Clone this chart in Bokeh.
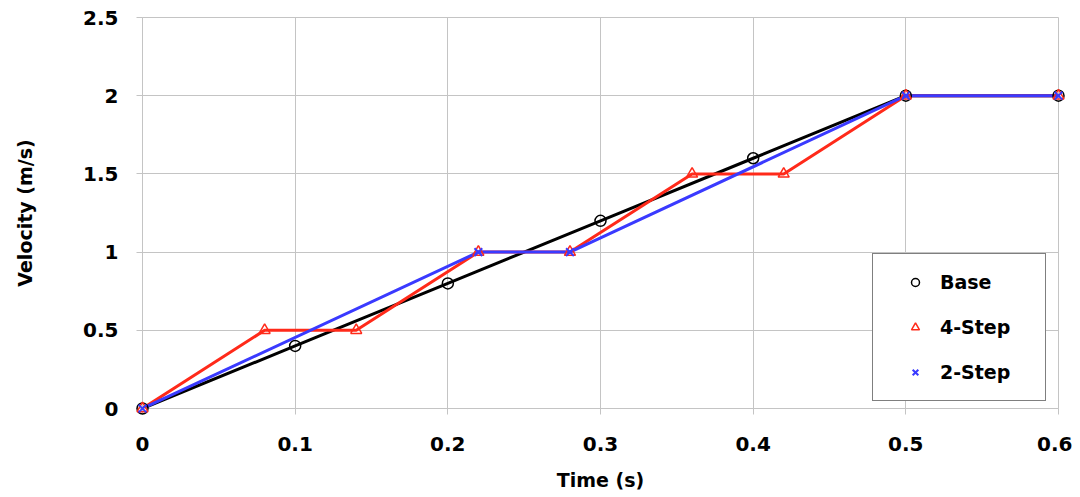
from bokeh.plotting import figure
from bokeh.models import Legend, LegendItem, FixedTicker, CustomJSTickFormatter
from bokeh.embed import file_html
from bokeh.resources import INLINE

# ---- data ----
base_t = [0, 0.1, 0.2, 0.3, 0.4, 0.5, 0.6]
base_v = [0, 0.4, 0.8, 1.2, 1.6, 2.0, 2.0]

step4_t = [0, 0.08, 0.14, 0.22, 0.28, 0.36, 0.42, 0.5, 0.6]
step4_v = [0, 0.5, 0.5, 1.0, 1.0, 1.5, 1.5, 2.0, 2.0]

step2_t = [0, 0.22, 0.28, 0.5, 0.6]
step2_v = [0, 1.0, 1.0, 2.0, 2.0]

x_ticks = [0, 0.1, 0.2, 0.3, 0.4, 0.5, 0.6]
x_labels = ["0", "0.1", "0.2", "0.3", "0.4", "0.5", "0.6"]
y_ticks = [0, 0.5, 1, 1.5, 2, 2.5]
y_labels = ["0", "0.5", "1", "1.5", "2", "2.5"]

FONT = "DejaVu Sans"
GRID = "#c4c4c4"
RED = "#ff2a1a"
BLUE = "#3a3aff"

p = figure(width=1072, height=493, x_range=(0, 0.6), y_range=(0, 2.5),
           output_backend="svg", toolbar_location=None,
           min_border_left=142, min_border_right=14,
           min_border_top=17, min_border_bottom=85)
p.background_fill_color = "white"
p.border_fill_color = "white"
p.outline_line_color = GRID

for ax, tks, lbls in ((p.xaxis[0], x_ticks, x_labels), (p.yaxis[0], y_ticks, y_labels)):
    ax.ticker = FixedTicker(ticks=tks)
    ax.formatter = CustomJSTickFormatter(args=dict(tv=tks, tl=lbls), code="""
        for (let i = 0; i < tv.length; i++) {
            if (Math.abs(tv[i] - tick) < 1e-9) return tl[i];
        }
        return '';
    """)
    ax.axis_line_color = GRID
    ax.major_tick_line_color = GRID
    ax.major_tick_out = 6
    ax.major_tick_in = 0
    ax.minor_tick_line_color = None
    ax.major_label_text_font = FONT
    ax.major_label_text_font_style = "bold"
    ax.major_label_text_font_size = "20px"
    ax.major_label_text_color = "black"
    ax.axis_label_text_font = FONT
    ax.axis_label_text_font_style = "bold"
    ax.axis_label_text_font_size = "19px"
    ax.axis_label_text_color = "black"

p.xaxis.axis_label = "Time (s)"
p.yaxis.axis_label = "Velocity (m/s)"
p.xaxis.major_label_standoff = 22
p.yaxis.major_label_standoff = 18
p.xaxis.axis_label_standoff = 15
p.yaxis.axis_label_standoff = 44

p.grid.grid_line_color = GRID
p.grid.grid_line_width = 1

# lines
p.line(base_t, base_v, line_color="black", line_width=3)
p.line(step4_t, step4_v, line_color=RED, line_width=3)
p.line(step2_t, step2_v, line_color=BLUE, line_width=3)

# markers
r_base = p.scatter(base_t, base_v, marker="circle", size=11, line_color="black",
                   line_width=1.5, fill_color=None, level="overlay")
r_4 = p.scatter(step4_t, step4_v, marker="triangle", size=11, line_color=RED,
                line_width=1.5, fill_color=None, level="overlay")
r_2 = p.scatter(step2_t, step2_v, marker="x", size=11, line_color=BLUE,
                line_width=2, level="overlay")

legend = Legend(items=[LegendItem(label="Base", renderers=[r_base]),
                       LegendItem(label="4-Step", renderers=[r_4]),
                       LegendItem(label="2-Step", renderers=[r_2])],
                location=(730, 7), padding=17, spacing=23,
                label_height=20, glyph_height=20, glyph_width=50,
                label_standoff=0, label_width=88,
                border_line_color="black", border_line_width=1,
                background_fill_color="white", background_fill_alpha=1,
                label_text_font=FONT, label_text_font_style="bold",
                label_text_font_size="19px", label_text_color="black",
                margin=0)
p.add_layout(legend)

open("out.html", "w").write(file_html(p, INLINE))
